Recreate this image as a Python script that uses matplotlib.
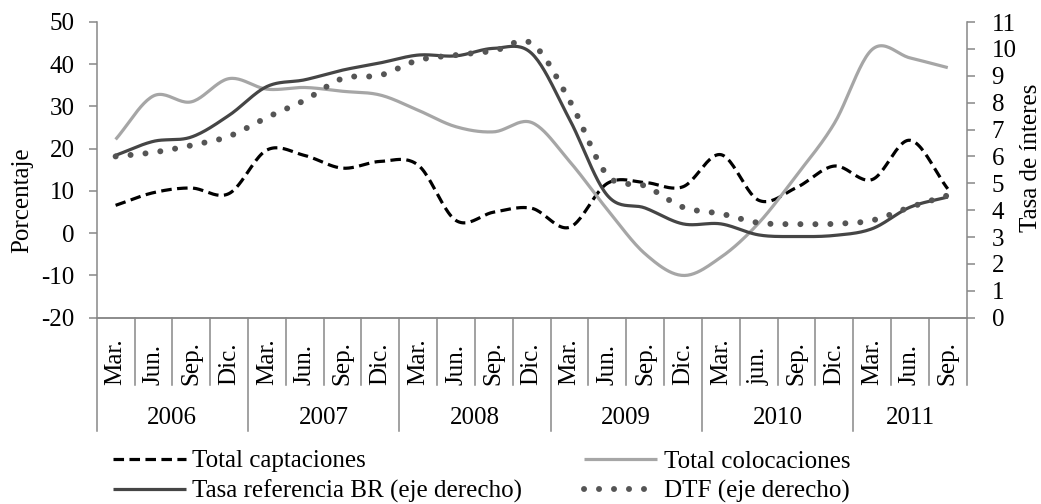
import numpy as np
import matplotlib
matplotlib.use('Agg')
import matplotlib.pyplot as plt
import matplotlib.transforms as mtransforms

plt.rcParams['font.family'] = ['Liberation Serif', 'DejaVu Serif']
plt.rcParams['axes.unicode_minus'] = False

W, H = 1041, 504  # tamaño en pixeles

years = ['2006', '2007', '2008', '2009', '2010', '2011']
months = ['Mar.', 'Jun.', 'Sep.', 'Dic.'] * 4 + ['Mar.', 'jun.', 'Sep.', 'Dic.', 'Mar.', 'Jun.', 'Sep.']
year_sizes = [4, 4, 4, 4, 4, 3]

# eje izquierdo (porcentaje)
captaciones = [6.6, 9.6, 10.7, 9.4, 19.7, 18.4, 15.4, 17.0, 16.1, 3.0, 5.0, 5.9,
               1.4, 11.8, 12.0, 11.0, 18.6, 7.8, 10.8, 15.9, 12.7, 22.0, 10.5]
colocaciones = [22.2, 32.5, 31.1, 36.6, 34.1, 34.5, 33.6, 32.7, 29.1, 25.2, 24.0, 26.2,
                17.0, 5.6, -4.9, -10.0, -5.7, 2.4, 13.7, 26.0, 43.5, 41.5, 39.2]
# eje derecho (tasa de interes)
tasa_br = [6.04, 6.56, 6.72, 7.53, 8.6, 8.85, 9.21, 9.48, 9.77, 9.74, 10.02, 9.83,
           7.38, 4.55, 4.08, 3.49, 3.49, 3.08, 3.02, 3.06, 3.31, 4.11, 4.49]
dtf = [6.0, 6.15, 6.41, 6.75, 7.45, 8.09, 8.9, 9.02, 9.58, 9.77, 9.93, 10.2,
       8.09, 5.3, 4.9, 4.11, 3.87, 3.53, 3.48, 3.49, 3.62, 4.11, 4.55]


def smooth(y, n=24):  # curva suavizada tipo Excel (Catmull-Rom)
	y = np.asarray(y, dtype=float)
	p = np.concatenate([[2 * y[0] - y[1]], y, [2 * y[-1] - y[-2]]])
	xs, ys = [], []
	t = np.linspace(0, 1, n, endpoint=False)
	for i in range(len(y) - 1):
		p0, p1, p2, p3 = p[i], p[i + 1], p[i + 2], p[i + 3]
		c1 = p1 + (p2 - p0) / 6
		c2 = p2 - (p3 - p1) / 6
		ys.append((1 - t) ** 3 * p1 + 3 * (1 - t) ** 2 * t * c1 + 3 * (1 - t) * t ** 2 * c2 + t ** 3 * p2)
		xs.append(i + t)
	xs.append([len(y) - 1])
	ys.append([y[-1]])
	return np.concatenate(xs), np.concatenate(ys)


fig = plt.figure(figsize=(W / 100, H / 100), dpi=100)
x0, x1, ytop, ybot = 96.7, 966.7, 22.0, 317.7
ax = fig.add_axes([x0 / W, 1 - ybot / H, (x1 - x0) / W, (ybot - ytop) / H])
ax2 = ax.twinx()

FS = 18
gris = '#888888'
n = len(months)

sx, sy = smooth(captaciones)
l1, = ax.plot(sx, sy, color='black', lw=2.3, ls=(0, (3.3, 1.7)), label='Total captaciones')
sx, sy = smooth(colocaciones)
l2, = ax.plot(sx, sy, color='#a6a6a6', lw=2.3, label='Total colocaciones', solid_capstyle='butt')
sx, sy = smooth(tasa_br)
l3, = ax2.plot(sx, sy, color='#454545', lw=2.3, label='Tasa referencia BR (eje derecho)', solid_capstyle='butt')
sx, sy = smooth(dtf)
l4, = ax2.plot(sx, sy, color='#555555', lw=4.3, ls=(0, (0.01, 2.5)), dash_capstyle='round',
               label='DTF (eje derecho)')

ax.set_xlim(-0.5, n - 0.5)
ax.set_ylim(-20, 50)
ax.set_yticks(range(-20, 51, 10))
ax2.set_ylim(0, 11)
ax2.set_yticks(range(0, 12))
ax.set_xticks([])

for a in (ax, ax2):
	for s in a.spines.values():
		s.set_color(gris)
		s.set_linewidth(1.1)
	a.spines['top'].set_visible(False)
ax.spines['right'].set_visible(False)
ax2.spines['left'].set_visible(False)
ax.tick_params(axis='y', colors=gris, labelcolor='black', labelsize=FS, length=6, width=1.1, pad=10)
ax2.tick_params(axis='y', colors=gris, labelcolor='black', labelsize=FS, length=6, width=1.1, pad=12)

# eje de categorias en dos niveles
trans = mtransforms.blended_transform_factory(ax.transData, ax.transAxes)
hpx = ybot - ytop
m_low = -(385 - ybot) / hpx
y_low = -(431 - ybot) / hpx
bounds = np.cumsum([0] + year_sizes)
for i in range(n + 1):
	bottom = y_low if (i in bounds and i != n) else m_low
	ax.plot([i - 0.5, i - 0.5], [0, bottom], transform=trans, color=gris, lw=1.1, clip_on=False)
for i, m in enumerate(months):
	ax.text(i, -(385 - ybot) / hpx, m, transform=trans, rotation=90, ha='center', va='bottom', fontsize=FS)
for k, yr in enumerate(years):
	c = (bounds[k] + bounds[k + 1] - 1) / 2
	ax.text(c, -(418 - ybot) / hpx, yr, transform=trans, ha='center', va='center', fontsize=FS)

fig.text(22 / W, 1 - 200 / H, 'Porcentaje', rotation=90, ha='center', va='center', fontsize=FS)
fig.text(1031 / W, 1 - 158 / H, 'Tasa de ínteres', rotation=90, ha='center', va='center', fontsize=FS)

kw = dict(frameon=False, fontsize=FS, handlelength=2.9, handletextpad=0.28, borderpad=0,
          borderaxespad=0, labelspacing=0.3, loc='upper left')
fig.legend([l1, l3], [l1.get_label(), l3.get_label()], bbox_to_anchor=(113 / W, 1 - 450 / H), **kw)
fig.legend([l2, l4], [l2.get_label(), l4.get_label()], bbox_to_anchor=(584 / W, 1 - 450 / H), **kw)

fig.savefig('out.png', dpi=100)
